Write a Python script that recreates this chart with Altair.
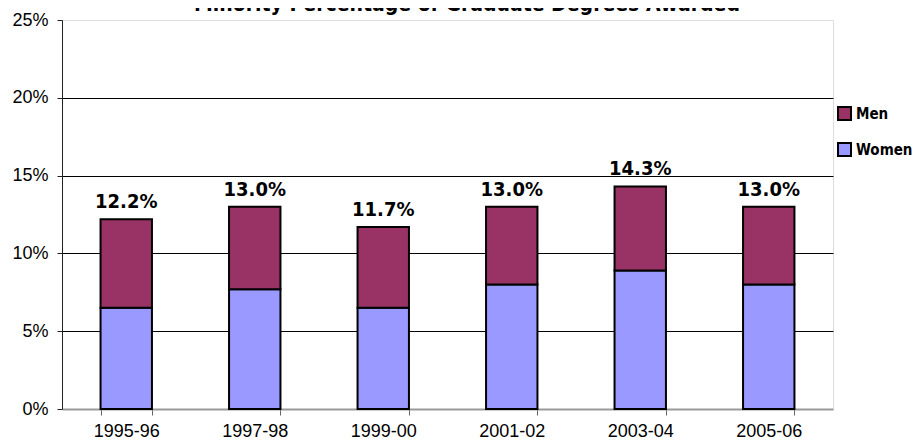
import altair as alt
import pandas as pd

title_text = "Minority Percentage of Graduate Degrees Awarded"
years = ["1995-96", "1997-98", "1999-00", "2001-02", "2003-04", "2005-06"]
women = [6.5, 7.7, 6.5, 8.0, 8.9, 8.0]
men = [5.7, 5.3, 5.2, 5.0, 5.4, 5.0]
totals = [12.2, 13.0, 11.7, 13.0, 14.3, 13.0]
total_labels = ["12.2%", "13.0%", "11.7%", "13.0%", "14.3%", "13.0%"]
series = ["Men", "Women"]
colors = ["#993366", "#9999FF"]
y_ticks = [0, 5, 10, 15, 20, 25]

rows = []
for i, yr in enumerate(years):
    rows.append({"year": yr, "group": "Women", "value": women[i], "ord": 0})
    rows.append({"year": yr, "group": "Men", "value": men[i], "ord": 1})
df = pd.DataFrame(rows)
tdf = pd.DataFrame({"year": years, "total": totals, "label": total_labels})

NARROW = "DejaVu Sans Condensed"
REG = "Liberation Sans, Arial"

x = alt.X("year:N", sort=years, title=None,
          scale=alt.Scale(paddingInner=0.6, paddingOuter=0.3),
          axis=alt.Axis(labelAngle=0, labelFont=REG, labelFontSize=18, labelColor="black",
                        labelPadding=7, domainColor="#999999", domainWidth=2,
                        tickColor="#666666", tickSize=6, tickBand="extent", grid=False))

bars = alt.Chart(df).mark_bar(stroke="black", strokeWidth=2).encode(
    x=x,
    y=alt.Y("value:Q", stack="zero", title=None,
            scale=alt.Scale(domain=[0, 25], nice=False),
            axis=alt.Axis(values=y_ticks, labelExpr="datum.value + '%'", labelFont=REG,
                          labelFontSize=18, labelColor="black", labelPadding=9,
                          domainColor="#222222", domainWidth=1, tickColor="#222222",
                          tickSize=5, grid=True,
                          gridColor={"condition": {"test": "datum.value === 25 || datum.value === 0",
                                                   "value": "transparent"}, "value": "black"},
                          gridWidth=1)),
    color=alt.Color("group:N", scale=alt.Scale(domain=series, range=colors),
                    legend=alt.Legend(title=None, orient="none", legendX=775, legendY=86,
                                      symbolType="square", symbolSize=169, symbolStrokeColor="black",
                                      symbolStrokeWidth=2, symbolOpacity=1, labelFont=NARROW,
                                      labelFontSize=15, labelFontWeight="bold", labelColor="black",
                                      labelOffset=4, rowPadding=15, padding=0)),
    order=alt.Order("ord:Q"),
)

labels = alt.Chart(tdf).mark_text(font=NARROW, fontSize=20, fontWeight="bold", color="black",
                                  baseline="alphabetic", dy=-11).encode(
    x=alt.X("year:N", sort=years),
    y=alt.Y("total:Q"),
    text="label:N",
)

title = alt.Chart(pd.DataFrame({"t": [title_text]})).mark_text(
    font=NARROW, fontSize=21, fontWeight="bold", color="black", baseline="alphabetic",
    align="center").encode(text="t:N", x=alt.value(405), y=alt.value(-9))

chart = alt.layer(bars, labels, title).properties(
    width=771, height=389,
    autosize=alt.AutoSizeParams(type="none"),
    padding={"left": 54, "top": 12, "right": 83, "bottom": 30},
).configure_view(stroke="#999999", strokeWidth=2).configure(background="white")

chart.save("out.html", embed_options={"renderer": "svg", "actions": False})
